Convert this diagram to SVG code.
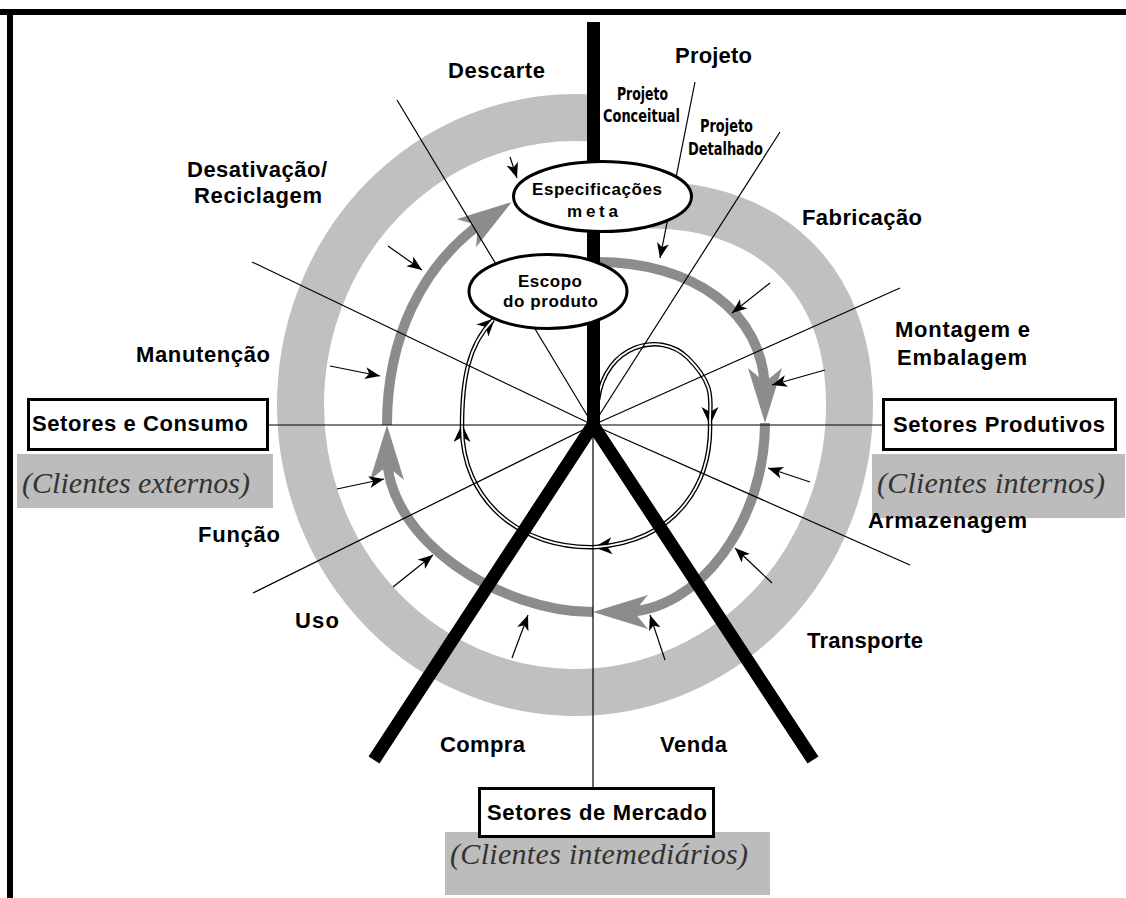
<svg xmlns="http://www.w3.org/2000/svg" width="1126" height="898" viewBox="0 0 1126 898">
  <style>
    .lbl { font-family: "Liberation Sans", Arial, sans-serif; font-weight: bold; font-size: 22px; fill: #000; }
    .cond { font-family: "Liberation Sans Narrow", "DejaVu Sans Condensed", "Liberation Sans", sans-serif; font-weight: bold; font-size: 17px; fill: #000; }
    .ell-t { font-family: "Liberation Sans", Arial, sans-serif; font-weight: bold; font-size: 17px; fill: #000; }
    .box-t { font-family: "Liberation Sans", Arial, sans-serif; font-weight: bold; font-size: 22px; fill: #000; }
    .cli { font-family: "Liberation Serif", "Times New Roman", serif; font-style: italic; font-size: 30px; fill: #333; }
    .box { fill: #fff; stroke: #000; stroke-width: 3; }
    .cli-bg { fill: #bcbcbc; }
    .radial { stroke: #000; stroke-width: 1.2; fill: none; }
    .leader { stroke: #000; stroke-width: 1.2; fill: none; marker-end: url(#ah-thin); }
    .flow { stroke: #8c8c8c; stroke-width: 10; fill: none; marker-end: url(#ah-gray); }
    .dbl-out { stroke: #000; stroke-width: 4.5; fill: none; marker-end: url(#ah-dbl); }
    .dbl-in { stroke: #fff; stroke-width: 1.8; fill: none; }
    .spine { stroke: #000; stroke-width: 13; fill: none; }
    .stage { fill: #fff; stroke: #000; stroke-width: 3; }
  </style>
  <defs>
    <marker id="ah-gray" markerUnits="userSpaceOnUse" markerWidth="60" markerHeight="40" refX="25" refY="17" orient="auto">
      <path d="M0,0 L55,17 L0,34 L14,17 z" fill="#8c8c8c"/>
    </marker>
    <marker id="ah-dbl" markerUnits="userSpaceOnUse" markerWidth="20" markerHeight="20" refX="15" refY="8.5" orient="auto">
      <path d="M0,0 L18,8.5 L0,17 L5,8.5 z" fill="#000"/>
    </marker>
    <marker id="ah-thin" markerUnits="userSpaceOnUse" markerWidth="16" markerHeight="14" refX="15" refY="6" orient="auto">
      <path d="M0,0 L15,6 L0,12 L4,6 z" fill="#000"/>
    </marker>
  </defs>

  <rect width="1126" height="898" fill="#fff"/>

  <!-- frame -->
  <g id="frame">
    <rect x="0" y="9" width="1126" height="6" fill="#000"/>
    <rect x="7" y="9" width="6" height="889" fill="#000"/>
  </g>

  <!-- outer life-cycle band (spirals into the target specifications) -->
  <g id="lifecycle-band">
    <path d="M593,118.1 A274.5,287.5 0 1 0 849.5,405 C849.5,280 770,205 650,205" fill="none" stroke="#c0c0c0" stroke-width="47"/>
  </g>

  <!-- client labels backgrounds -->
  <g id="client-backgrounds">
    <rect class="cli-bg" x="17" y="454" width="256" height="54"/>
    <rect class="cli-bg" x="872" y="454" width="253" height="64"/>
    <rect class="cli-bg" x="445" y="832" width="325" height="63"/>
  </g>

  <g id="connectors">
    <!-- product flow spiral -->
    <path class="flow" d="M598,262 C690,262 765,310 765,393"/>
    <path class="flow" d="M765,423 C765,520 700,612 623,612"/>
    <path class="flow" d="M593,612 C500,612 387,540 387,455"/>
    <path class="flow" d="M387,425 C387,340 420,265 487,219"/>

    <!-- inner feedback loop (double line) -->
    <g id="feedback-loop">
      <path class="dbl-out" d="M598,400 C605,345 660,330 688,358 S710,400 710,422"/>
      <path class="dbl-in" d="M598,400 C605,345 660,330 688,358 S710,400 710,422"/>
      <path class="dbl-out" d="M710,422 C712,480 680,540 597,547"/>
      <path class="dbl-in" d="M710,422 C712,480 680,540 597,547"/>
      <path class="dbl-out" d="M597,547 C520,550 462,500 462,427"/>
      <path class="dbl-in" d="M597,547 C520,550 462,500 462,427"/>
      <path class="dbl-out" d="M462,427 C462,380 468,345 493,320"/>
      <path class="dbl-in" d="M462,427 C462,380 468,345 493,320"/>
    </g>

    <!-- radial sector lines -->
    <line class="radial" x1="397" y1="100" x2="593" y2="425"/>
    <line class="radial" x1="780" y1="132" x2="593" y2="425"/>
    <line class="radial" x1="252" y1="262" x2="593" y2="425"/>
    <line class="radial" x1="900" y1="288" x2="593" y2="425"/>
    <line class="radial" x1="253" y1="593" x2="593" y2="425"/>
    <line class="radial" x1="910" y1="565" x2="593" y2="425"/>
    <line class="radial" x1="269" y1="425" x2="882" y2="425"/>
    <line class="radial" x1="593" y1="425" x2="593" y2="787"/>

    <!-- design leader -->
    <line class="leader" x1="695" y1="82" x2="660" y2="258"/>

    <!-- sector spines -->
    <line class="spine" x1="593.5" y1="22" x2="593.5" y2="428"/>
    <polyline class="spine" points="374,760 593,425 813,760" stroke-linejoin="miter"/>

    <!-- stage inputs -->
    <line class="leader" x1="510" y1="157" x2="517" y2="178"/>
    <line class="leader" x1="388" y1="246" x2="422" y2="270"/>
    <line class="leader" x1="330" y1="366" x2="380" y2="376"/>
    <line class="leader" x1="337" y1="489" x2="384" y2="479"/>
    <line class="leader" x1="393" y1="587" x2="433" y2="555"/>
    <line class="leader" x1="512" y1="658" x2="528" y2="615"/>
    <line class="leader" x1="665" y1="660" x2="650" y2="615"/>
    <line class="leader" x1="772" y1="583" x2="735" y2="548"/>
    <line class="leader" x1="810" y1="482" x2="768" y2="468"/>
    <line class="leader" x1="825" y1="370" x2="772" y2="385"/>
    <line class="leader" x1="770" y1="283" x2="732" y2="313"/>
  </g>

  <!-- core stages -->
  <g id="especificacoes-meta">
    <ellipse class="stage" cx="602.5" cy="196.5" rx="89" ry="35"/>
    <text class="ell-t" x="532" y="195" textLength="130" lengthAdjust="spacing">Especificações</text>
    <text class="ell-t" x="567" y="217" textLength="51" lengthAdjust="spacing">meta</text>
  </g>
  <g id="escopo-produto">
    <ellipse class="stage" cx="548" cy="291.5" rx="79" ry="37"/>
    <text class="ell-t" x="518" y="287" textLength="64" lengthAdjust="spacing">Escopo</text>
    <text class="ell-t" x="503" y="307" textLength="95" lengthAdjust="spacing">do produto</text>
  </g>

  <!-- stage labels -->
  <g id="stage-labels">
    <text class="lbl" x="448" y="78" textLength="97" lengthAdjust="spacing">Descarte</text>
    <text class="lbl" x="675" y="63" textLength="77" lengthAdjust="spacing">Projeto</text>
    <text class="cond" x="617" y="100" textLength="51" lengthAdjust="spacingAndGlyphs">Projeto</text>
    <text class="cond" x="603" y="122" textLength="77" lengthAdjust="spacingAndGlyphs">Conceitual</text>
    <text class="cond" x="700" y="132" textLength="53" lengthAdjust="spacingAndGlyphs">Projeto</text>
    <text class="cond" x="688" y="155" textLength="75" lengthAdjust="spacingAndGlyphs">Detalhado</text>
    <text class="lbl" x="187" y="177" textLength="140" lengthAdjust="spacing">Desativação/</text>
    <text class="lbl" x="194" y="203" textLength="128" lengthAdjust="spacing">Reciclagem</text>
    <text class="lbl" x="136" y="362" textLength="134" lengthAdjust="spacing">Manutenção</text>
    <text class="lbl" x="198" y="542" textLength="82" lengthAdjust="spacing">Função</text>
    <text class="lbl" x="295" y="628" textLength="44" lengthAdjust="spacing">Uso</text>
    <text class="lbl" x="440" y="752" textLength="85" lengthAdjust="spacing">Compra</text>
    <text class="lbl" x="660" y="752" textLength="67" lengthAdjust="spacing">Venda</text>
    <text class="lbl" x="807" y="648" textLength="116" lengthAdjust="spacing">Transporte</text>
    <text class="lbl" x="802" y="225" textLength="120" lengthAdjust="spacing">Fabricação</text>
    <text class="lbl" x="895" y="337" textLength="135" lengthAdjust="spacing">Montagem e</text>
    <text class="lbl" x="897" y="365" textLength="130" lengthAdjust="spacing">Embalagem</text>
    <text class="lbl" x="868" y="528" textLength="159" lengthAdjust="spacing">Armazenagem</text>
  </g>

  <!-- sectors -->
  <g id="setores-consumo">
    <rect class="box" x="28.5" y="399.5" width="239" height="50"/>
    <text class="box-t" x="32" y="431" textLength="216" lengthAdjust="spacing">Setores e Consumo</text>
    <text class="cli" x="22" y="493" textLength="228" lengthAdjust="spacing">(Clientes externos)</text>
  </g>
  <g id="setores-produtivos">
    <rect class="box" x="883.5" y="399.5" width="232" height="50"/>
    <text class="box-t" x="893" y="432" textLength="212" lengthAdjust="spacing">Setores Produtivos</text>
    <text class="cli" x="877" y="493" textLength="228" lengthAdjust="spacing">(Clientes internos)</text>
  </g>
  <g id="setores-mercado">
    <rect class="box" x="479.5" y="788.5" width="234" height="48"/>
    <text class="box-t" x="487" y="820" textLength="220" lengthAdjust="spacing">Setores de Mercado</text>
    <text class="cli" x="450" y="864" textLength="298" lengthAdjust="spacing">(Clientes intemediários)</text>
  </g>
</svg>
